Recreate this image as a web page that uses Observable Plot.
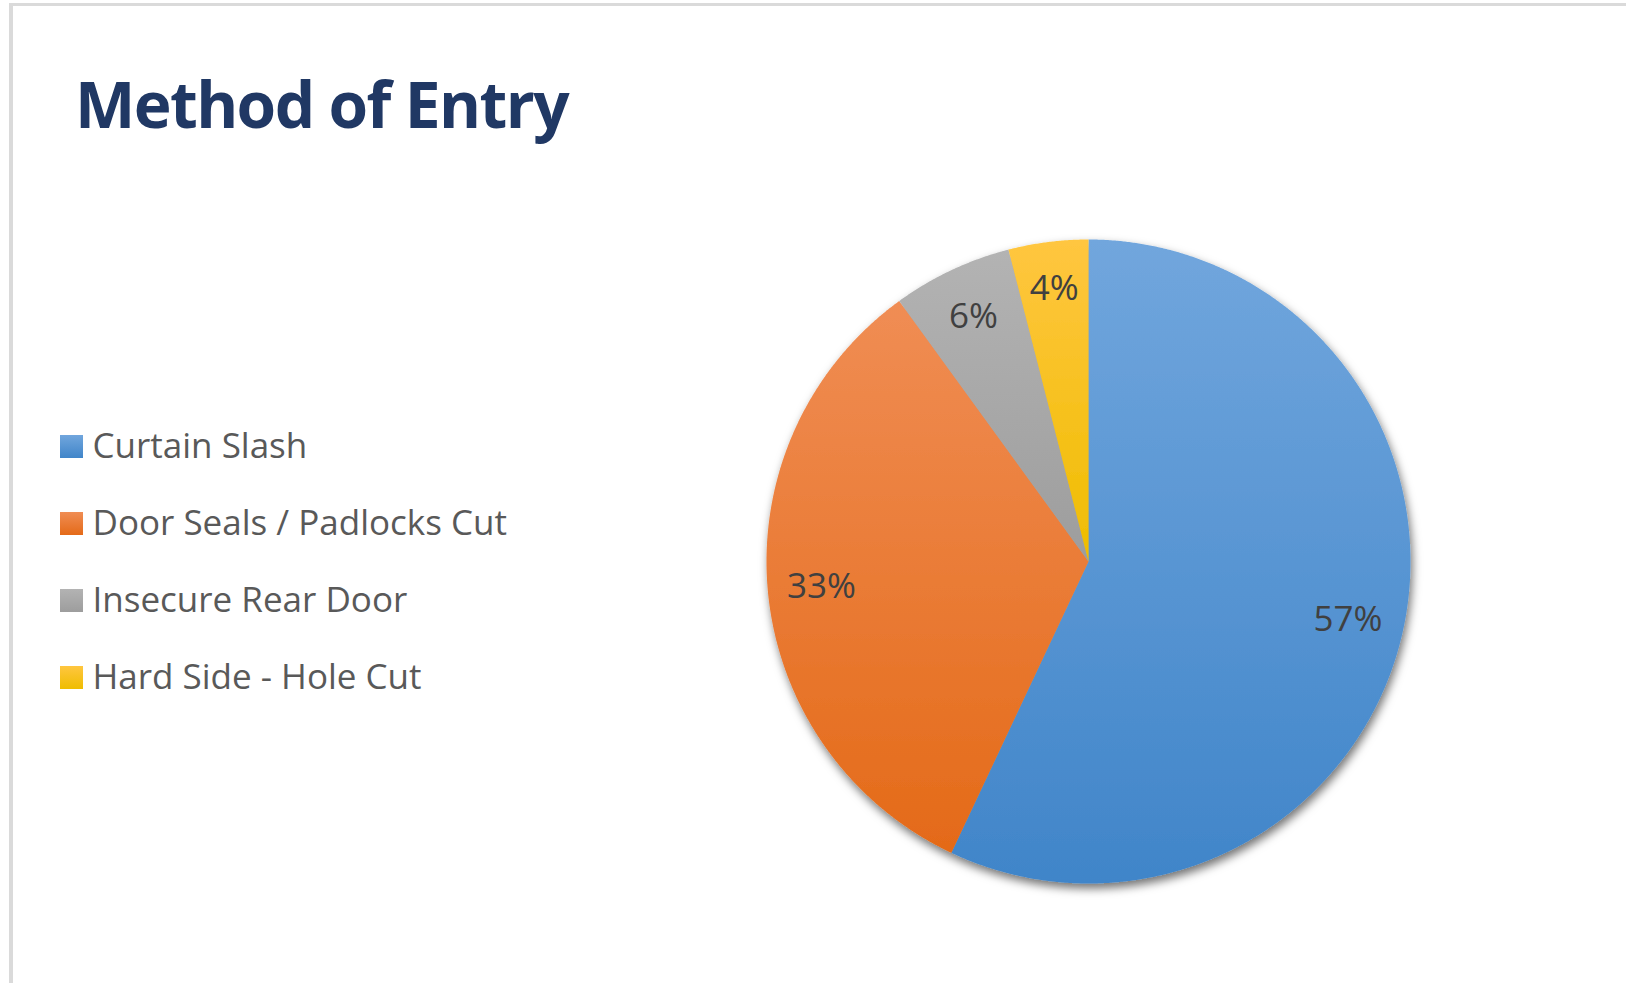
<!DOCTYPE html>
<html>
<head>
<meta charset="utf-8">
<script src="https://cdn.jsdelivr.net/npm/d3@7"></script>
<script src="https://cdn.jsdelivr.net/npm/@observablehq/plot@0.6"></script>
<style>
  html, body { margin: 0; padding: 0; background: #fff; }
  body { width: 1626px; height: 983px; position: relative; overflow: hidden; font-family: "Open Sans", sans-serif; }
  #frame { position: absolute; left: 9px; top: 3px; width: 1700px; height: 1100px; border-left: 4px solid #dadada; border-top: 3px solid #dadada; }
  #title { position: absolute; left: 75px; top: 72px; margin: 0; font-family: "Open Sans", sans-serif; font-weight: 700; font-size: 64px; line-height: 64px; letter-spacing: -1.6px; color: #203864; white-space: nowrap; }
  .layer { position: absolute; left: 0; top: 0; }
  #defs { position: absolute; width: 0; height: 0; }
</style>
</head>
<body>
<div id="frame"></div>
<svg id="defs" width="0" height="0" aria-hidden="true">
  <defs>
    <linearGradient id="g-blue" x1="0" y1="0" x2="0" y2="1">
      <stop offset="0" stop-color="#71a6dd"/>
      <stop offset="1" stop-color="#4085c9"/>
    </linearGradient>
    <linearGradient id="g-orange" x1="0" y1="0" x2="0" y2="1">
      <stop offset="0" stop-color="#f08d54"/>
      <stop offset="1" stop-color="#e46a18"/>
    </linearGradient>
    <linearGradient id="g-gray" x1="0" y1="0" x2="0" y2="1">
      <stop offset="0" stop-color="#b3b3b3"/>
      <stop offset="1" stop-color="#9d9d9d"/>
    </linearGradient>
    <linearGradient id="g-yellow" x1="0" y1="0" x2="0" y2="1">
      <stop offset="0" stop-color="#ffc640"/>
      <stop offset="1" stop-color="#efbd00"/>
    </linearGradient>
    <filter id="pie-shadow" x="-10%" y="-10%" width="125%" height="130%">
      <feDropShadow dx="2" dy="5" stdDeviation="5" flood-color="#000" flood-opacity="0.55"/>
    </filter>
  </defs>
</svg>
<h1 id="title">Method of Entry</h1>
<div id="legend" class="layer"></div>
<div id="pie" class="layer"></div>
<script>
// ---- data ----
const categories = ["Curtain Slash", "Door Seals / Padlocks Cut", "Insecure Rear Door", "Hard Side - Hole Cut"];
const values = [57, 33, 6, 4];
const percentLabels = ["57%", "33%", "6%", "4%"];

// ---- styles ----
const fills = ["url(#g-blue)", "url(#g-orange)", "url(#g-gray)", "url(#g-yellow)"];

const table = categories.map((c, i) => ({category: c, value: values[i], label: percentLabels[i]}));
const arcs = d3.pie().sort(null).value(d => d.value)(table);

// polygon outline of each slice (unit circle, angles clockwise from 12 o'clock)
const outline = [];
for (const a of arcs) {
  const n = Math.max(8, Math.ceil((a.endAngle - a.startAngle) / (Math.PI / 720)));
  outline.push({category: a.data.category, x: 0, y: 0});
  for (let k = 0; k <= n; k++) {
    const t = a.startAngle + (a.endAngle - a.startAngle) * k / n;
    outline.push({category: a.data.category, x: Math.sin(t), y: Math.cos(t)});
  }
  outline.push({category: a.data.category, x: 0, y: 0});
}

// "inside end" label placement: the label box is pushed in from the rim
// by a padding plus its half-extent along the radial direction (unit-radius units)
const radiusPx = 322;
const fontSize = 35;
const labelDist = d => {
  const m = (d.startAngle + d.endAngle) / 2;
  const hw = (d.data.label.length * 0.6 * fontSize) / 2 / radiusPx;
  const hh = 0.72 * fontSize / radiusPx;
  return 1 - 20 / radiusPx - (hw * Math.abs(Math.sin(m)) + hh * Math.abs(Math.cos(m)));
};

const pie = Plot.plot({
  width: 1626,
  height: 983,
  margin: 0,
  x: {domain: [-1, 1], range: [766, 1410], axis: null},
  y: {domain: [-1, 1], range: [883, 239], axis: null},
  color: {domain: categories, range: fills},
  style: {background: "transparent", overflow: "visible"},
  marks: [
    Plot.line(outline, {x: "x", y: "y", z: "category", fill: "category", stroke: "none"}),
    Plot.text(arcs, {
      x: d => labelDist(d) * Math.sin((d.startAngle + d.endAngle) / 2),
      y: d => labelDist(d) * Math.cos((d.startAngle + d.endAngle) / 2),
      text: d => d.data.label,
      fontSize: fontSize,
      fontFamily: "Open Sans",
      fill: "#404040"
    })
  ]
});
const lineG = pie.querySelector('g[aria-label="line"]');
if (lineG) lineG.setAttribute("filter", "url(#pie-shadow)");
document.getElementById("pie").appendChild(pie);

const legend = Plot.plot({
  width: 620,
  height: 983,
  margin: 0,
  x: {domain: [0, 1], axis: null},
  y: {type: "point", domain: categories, range: [446, 677], padding: 0, axis: null},
  color: {domain: categories, range: fills},
  style: {background: "transparent", overflow: "visible"},
  marks: [
    Plot.dot(categories, {y: d => d, fill: d => d, frameAnchor: "left", dx: 71, symbol: "square", r: 13}),
    Plot.text(categories, {
      y: d => d, text: d => d, frameAnchor: "left", dx: 92, textAnchor: "start",
      fontSize: 35, fontFamily: "Open Sans", fill: "#595959"
    })
  ]
});
document.getElementById("legend").appendChild(legend);
</script>
</body>
</html>
